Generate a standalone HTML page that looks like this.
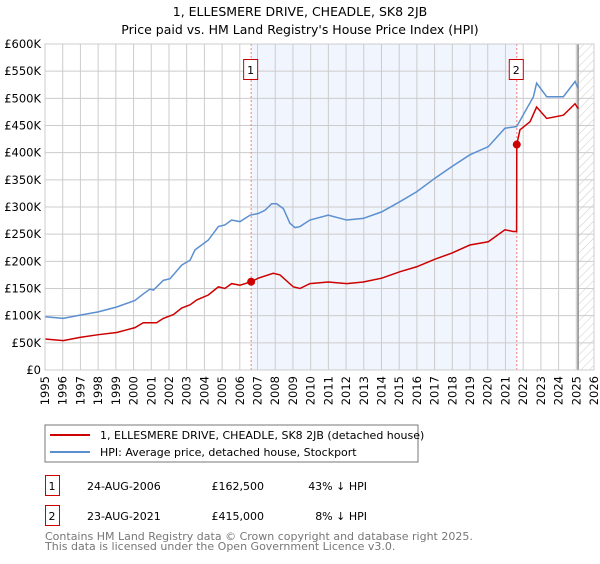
<!DOCTYPE html>
<html><head><meta charset="utf-8"><style>
body{margin:0;background:#fff;width:600px;height:560px;overflow:hidden;font-family:"DejaVu Sans","Liberation Sans",sans-serif}
svg text{font-family:"DejaVu Sans","Liberation Sans",sans-serif}
</style></head><body>
<svg id="c" width="600" height="560">
<defs><pattern id="hatch" width="6" height="6" patternUnits="userSpaceOnUse" patternTransform="rotate(45)"><line x1="0" y1="0" x2="0" y2="6" stroke="#ccc" stroke-width="1"/></pattern></defs>
<text x="300" y="16" text-anchor="middle" font-size="12.5">1, ELLESMERE DRIVE, CHEADLE, SK8 2JB</text>
<text x="300" y="34" text-anchor="middle" font-size="12.5">Price paid vs. HM Land Registry's House Price Index (HPI)</text>
<g id="plot"></g>
<rect x="45" y="425" width="373" height="37" fill="#fff" stroke="#777"/>
<line x1="50" y1="435" x2="90" y2="435" stroke="#cc0000" stroke-width="2"/>
<text x="100" y="439" font-size="11">1, ELLESMERE DRIVE, CHEADLE, SK8 2JB (detached house)</text>
<line x1="50" y1="452" x2="90" y2="452" stroke="#5b8fd0" stroke-width="2"/>
<text x="100" y="456" font-size="11">HPI: Average price, detached house, Stockport</text>
<g font-size="11">
<rect x="45.5" y="475.5" width="14" height="20" fill="#fff" stroke="#cc0000"/><text x="52" y="490" text-anchor="middle">1</text>
<text x="87" y="490">24-AUG-2006</text><text x="264" y="490" text-anchor="end">£162,500</text><text x="367" y="490" text-anchor="end">43% ↓ HPI</text>
<rect x="45.5" y="505.5" width="14" height="20" fill="#fff" stroke="#cc0000"/><text x="52" y="520" text-anchor="middle">2</text>
<text x="87" y="520">23-AUG-2021</text><text x="264" y="520" text-anchor="end">£415,000</text><text x="367" y="520" text-anchor="end">8% ↓ HPI</text>
</g>
<text x="45" y="540" font-size="11" fill="#777">Contains HM Land Registry data © Crown copyright and database right 2025.</text>
<text x="45" y="550" font-size="11" fill="#777">This data is licensed under the Open Government Licence v3.0.</text>
</svg>
<script>
const hpiYears=[1995,1996.03,1996.98,1998.01,1999.05,2000.08,2000.55,2000.93,2001.12,2001.68,2002.06,2002.72,2003.19,2003.47,2004.22,2004.79,2005.16,2005.54,2006.01,2006.58,2007.04,2007.42,2007.8,2008.08,2008.46,2008.83,2009.12,2009.4,2009.96,2010.99,2012.04,2012.97,2014.01,2015.05,2015.99,2017.02,2017.96,2018.99,2020.03,2020.97,2021.63,2022.58,2022.76,2023.33,2024.27,2024.93,2025.11];
const hpiValues=[98,95,101,107,116,128,140,149,147,165,168,193,202,221,239,264,267,276,273,285,288,294,306,306,297,270,262,264,276,285,276,279,291,310,328,353,374,396,411,445,448,503,528,503,503,531,518];
const priceYears=[1995,1996.03,1996.98,1998.01,1999.05,2000.08,2000.55,2001.3,2001.68,2002.25,2002.72,2003.19,2003.57,2004.22,2004.79,2005.16,2005.54,2006.01,2006.64,2007.04,2007.89,2008.27,2009.02,2009.4,2009.96,2010.99,2012.04,2012.97,2014.01,2015.05,2015.99,2017.02,2017.96,2018.99,2020.03,2020.97,2021.44,2021.63,2021.64,2021.82,2022.39,2022.76,2023.33,2024.27,2024.93,2025.11];
const priceValues=[57,54,60,65,69,78,87,87,95,102,114,120,129,138,153,150,159,156,162.5,169,178,175,153,150,159,162,159,162,169,181,190,204,215,230,236,258,255,255,415,442,457,484,463,469,490,481];
const saleYears=[2006.64,2021.64];
const saleValues=[162.5,415];
const saleLabels=["1","2"];
const yTicks=[0,50,100,150,200,250,300,350,400,450,500,550,600];
const xTicks=[1995,1996,1997,1998,1999,2000,2001,2002,2003,2004,2005,2006,2007,2008,2009,2010,2011,2012,2013,2014,2015,2016,2017,2018,2019,2020,2021,2022,2023,2024,2025,2026];
const X0=45,X1=594,Y0=370,Y1=44;
const xs=y=>X0+(y-1995)/(2026-1995)*(X1-X0);
const ys=v=>Y0-v/600*(Y0-Y1);
const NS="http://www.w3.org/2000/svg";
const g=document.getElementById('plot');
function mk(t,a,p){const e=document.createElementNS(NS,t);for(const k in a)e.setAttribute(k,a[k]);(p||g).appendChild(e);return e;}
let e=mk('rect',{x:xs(saleYears[0]),y:Y1,width:xs(saleYears[1])-xs(saleYears[0]),height:Y0-Y1,fill:'#eef3fc',opacity:0.8});


e=mk('rect',{x:xs(2025.1),y:Y1,width:X1-xs(2025.1),height:Y0-Y1,fill:'url(#hatch)'});


yTicks.forEach(t=>{
 e=mk('line',{x1:X0,x2:X1,y1:ys(t),y2:ys(t),stroke:'#ccc'});
 
 
 e=mk('text',{x:41,y:ys(t)+4,'text-anchor':'end','font-size':'11.5'});e.textContent=t===0?'£0':'£'+t+'K';
 
 
});
xTicks.forEach(t=>{
 e=mk('line',{x1:xs(t),x2:xs(t),y1:Y1,y2:Y0,stroke:'#ccc'});
 
 
 e=mk('text',{x:0,y:0,'font-size':'11.5','text-anchor':'end',transform:`translate(${xs(t)+4},${Y0+6}) rotate(-90)`});e.textContent=t;
 
 
});
e=mk('line',{x1:xs(2025.1),x2:xs(2025.1),y1:Y1,y2:Y0,stroke:'#888','stroke-width':1.5});


saleYears.forEach((y,i)=>{
 e=mk('line',{x1:xs(y),x2:xs(y),y1:Y1,y2:Y0,stroke:'#f08080','stroke-dasharray':'2,2'});
 
 
});
e=mk('polyline',{points:hpiYears.map((y,i)=>xs(y)+','+ys(hpiValues[i])).join(' '),fill:'none',stroke:'#5b8fd0','stroke-width':1.5});


e=mk('polyline',{points:priceYears.map((y,i)=>xs(y)+','+ys(priceValues[i])).join(' '),fill:'none',stroke:'#cc0000','stroke-width':1.5});


saleYears.forEach((y,i)=>{
 e=mk('circle',{cx:xs(y),cy:ys(saleValues[i]),r:4,fill:'#cc0000'});
 
 
 e=mk('rect',{x:xs(y)-7.5,y:59.5,width:14,height:20,fill:'#fff',stroke:'#cc0000'});
 
 
 e=mk('text',{x:xs(y)-0.5,y:74,'text-anchor':'middle','font-size':'11'});e.textContent=saleLabels[i];
 
 
});
e=mk('rect',{x:X0,y:Y1,width:X1-X0,height:Y0-Y1,fill:'none',stroke:'#ccc'});


</script>
</body></html>
